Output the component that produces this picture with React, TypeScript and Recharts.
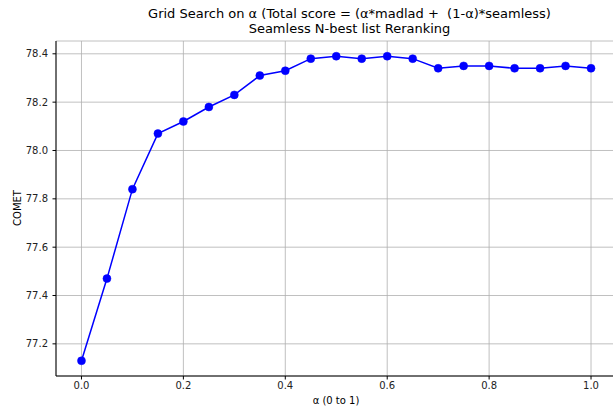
import { LineChart, Line, XAxis, YAxis, CartesianGrid } from 'recharts';

// grid search values
const alphas = [0, 0.05, 0.1, 0.15, 0.2, 0.25, 0.3, 0.35, 0.4, 0.45, 0.5, 0.55, 0.6, 0.65, 0.7, 0.75, 0.8, 0.85, 0.9, 0.95, 1.0];
const comet = [77.13, 77.47, 77.84, 78.07, 78.12, 78.18, 78.23, 78.31, 78.33, 78.38, 78.39, 78.38, 78.39, 78.38, 78.34, 78.35, 78.35, 78.34, 78.34, 78.35, 78.34];
const xTicks = [0, 0.2, 0.4, 0.6, 0.8, 1.0];
const yTicks = [77.2, 77.4, 77.6, 77.8, 78.0, 78.2, 78.4];

const data = alphas.map((a, i) => ({ alpha: a, comet: comet[i] }));

const font = 'DejaVu Sans, sans-serif';
const tickStyle = { fontSize: 10, fill: '#222', fontFamily: font };

export default function App() {
  return (
    <div style={{ position: 'absolute', left: 0, top: 0, width: 613, height: 414, overflow: 'hidden', background: '#fff', fontFamily: font }}>
      <div style={{ position: 'absolute', left: 0, width: 699, top: 7, textAlign: 'center', fontSize: 13, lineHeight: '14.5px', color: '#000' }}>
        <div>Grid Search on α (Total score = (α*madlad +&nbsp; (1-α)*seamless)</div>
        <div>Seamless N-best list Reranking</div>
      </div>
      <LineChart
        width={620}
        height={414}
        data={data}
        margin={{ top: 41, right: 3.5, bottom: 0, left: 0 }}
      >
        <CartesianGrid stroke="#b0b0b0" strokeWidth={0.8} />
        <XAxis
          dataKey="alpha"
          type="number"
          domain={[-0.05, 1.05]}
          ticks={xTicks}
          tickFormatter={(v: number) => v.toFixed(1)}
          tick={tickStyle}
          tickSize={3.5}
          tickMargin={2}
          height={38}
          stroke="#000"
          tickLine={{ stroke: '#000' }}
          allowDataOverflow
        />
        <XAxis
          xAxisId="top"
          orientation="top"
          dataKey="alpha"
          type="number"
          domain={[-0.05, 1.05]}
          tick={false}
          tickLine={false}
          height={0}
          stroke="#000"
        />
        <YAxis
          type="number"
          domain={[77.067, 78.453]}
          ticks={yTicks}
          tickFormatter={(v: number) => v.toFixed(1)}
          tick={tickStyle}
          tickSize={3.5}
          tickMargin={4.5}
          width={56}
          stroke="#000"
          tickLine={{ stroke: '#000' }}
          allowDataOverflow
        />
        <Line
          dataKey="comet"
          stroke="#0000ff"
          strokeWidth={1.5}
          dot={{ r: 4, fill: '#0000ff', stroke: '#0000ff', strokeWidth: 0.5 }}
          isAnimationActive={false}
        />
      </LineChart>
      <div style={{ position: 'absolute', left: 286, width: 100, top: 395, textAlign: 'center', fontSize: 10, color: '#000' }}>α (0 to 1)</div>
      <div style={{ position: 'absolute', left: 17, top: 208, fontSize: 10, color: '#000', transform: 'translate(-50%, -50%) rotate(-90deg)', whiteSpace: 'nowrap' }}>COMET</div>
    </div>
  );
}
